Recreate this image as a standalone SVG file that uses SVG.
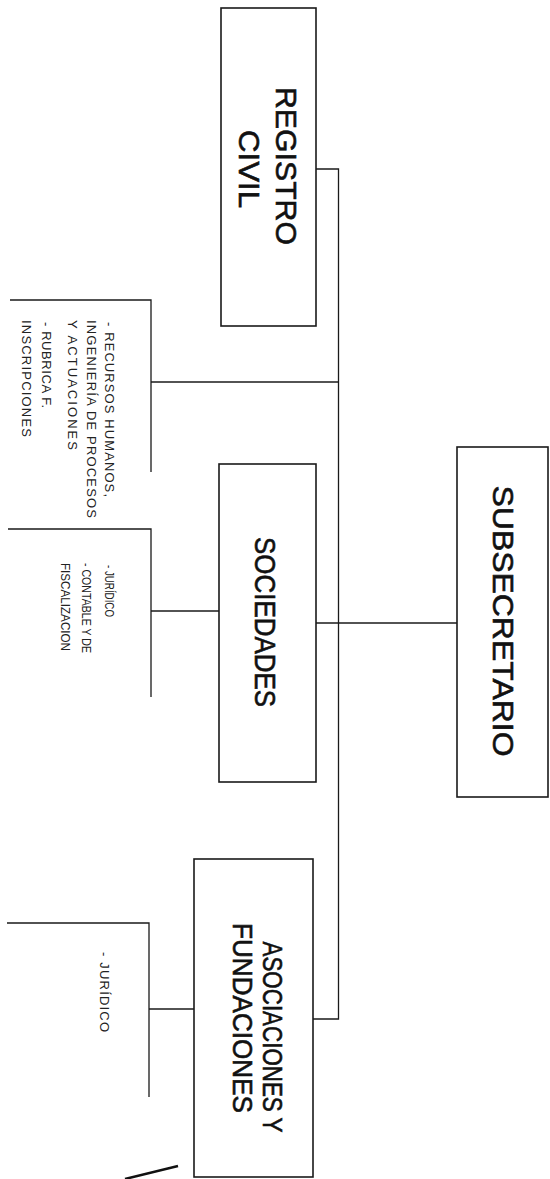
<svg xmlns="http://www.w3.org/2000/svg" width="550" height="1179" viewBox="0 0 550 1179">
<style>
.box{fill:#fff;stroke:#1a1a1a;stroke-width:1.6}
.ln{fill:none;stroke:#1a1a1a;stroke-width:1.3}
.big{font-family:"Liberation Sans",Arial,sans-serif;font-size:30px;fill:#111;stroke:#111;stroke-width:0.6}
.mid{font-family:"Liberation Sans",Arial,sans-serif;font-size:27px;fill:#111;stroke:#111;stroke-width:0.6}
.sm{font-family:"Liberation Sans",Arial,sans-serif;font-size:12px;fill:#222}
.sl{font-family:"Liberation Sans",Arial,sans-serif;font-size:13px;fill:#222}
</style>
<rect width="550" height="1179" fill="#fff"/>
<g id="connectors">
<path class="ln" d="M316,169 H338.5 V1019 H313"/>
<path class="ln" d="M338.5,382 H151"/>
<path class="ln" d="M10,300 H151 V472"/>
<path class="ln" d="M316,623 H457"/>
<path class="ln" d="M219,611 H151"/>
<path class="ln" d="M8,529 H151 V697"/>
<path class="ln" d="M194,1009 H149"/>
<path class="ln" d="M7,923 H149 V1097"/>
<path d="M125,1179 L178,1166" fill="none" stroke="#111" stroke-width="2.5"/>
</g>
<g id="registro-civil">
<rect class="box" x="221" y="8" width="95" height="318"/>
<text class="big" text-anchor="middle" transform="translate(276,166) rotate(90)" textLength="158" lengthAdjust="spacingAndGlyphs">REGISTRO</text>
<text class="big" text-anchor="middle" transform="translate(239,169) rotate(90)" textLength="78" lengthAdjust="spacingAndGlyphs">CIVIL</text>
</g>
<g id="rrhh-list">
<text class="sl" transform="translate(105,322) rotate(90)" textLength="175" lengthAdjust="spacing">- RECURSOS HUMANOS,</text>
<text class="sl" transform="translate(87,320) rotate(90)" textLength="198" lengthAdjust="spacing">INGENIERÍA DE PROCESOS</text>
<text class="sl" transform="translate(68,320) rotate(90)" textLength="130" lengthAdjust="spacing">Y ACTUACIONES</text>
<text class="sl" transform="translate(42,322) rotate(90)" textLength="86" lengthAdjust="spacing">- RUBRICA F.</text>
<text class="sl" transform="translate(22,320) rotate(90)" textLength="117" lengthAdjust="spacing">INSCRIPCIONES</text>
</g>
<g id="sociedades">
<rect class="box" x="219" y="464" width="97" height="318"/>
<text class="big" text-anchor="middle" transform="translate(255,622) rotate(90)" textLength="170" lengthAdjust="spacingAndGlyphs">SOCIEDADES</text>
</g>
<g id="sociedades-list">
<text class="sm" transform="translate(105,565) rotate(90)" textLength="52" lengthAdjust="spacingAndGlyphs">- JURÍDICO</text>
<text class="sm" transform="translate(82,563) rotate(90)" textLength="90" lengthAdjust="spacingAndGlyphs">- CONTABLE Y DE</text>
<text class="sm" transform="translate(61,563) rotate(90)" textLength="88" lengthAdjust="spacingAndGlyphs">FISCALIZACION</text>
</g>
<g id="subsecretario">
<rect class="box" x="457" y="447" width="91" height="350"/>
<text class="big" text-anchor="middle" transform="translate(493,621) rotate(90)" textLength="271" lengthAdjust="spacingAndGlyphs">SUBSECRETARIO</text>
</g>
<g id="asociaciones">
<rect class="box" x="194" y="859" width="119" height="318"/>
<text class="mid" text-anchor="middle" transform="translate(263,1037) rotate(90)" textLength="191" lengthAdjust="spacingAndGlyphs">ASOCIACIONES Y</text>
<text class="mid" text-anchor="middle" transform="translate(233,1018) rotate(90)" textLength="190" lengthAdjust="spacingAndGlyphs">FUNDACIONES</text>
</g>
<g id="asociaciones-list">
<text class="sl" transform="translate(100,952) rotate(90)" textLength="80" lengthAdjust="spacing">- JURÍDICO</text>
</g>
</svg>
